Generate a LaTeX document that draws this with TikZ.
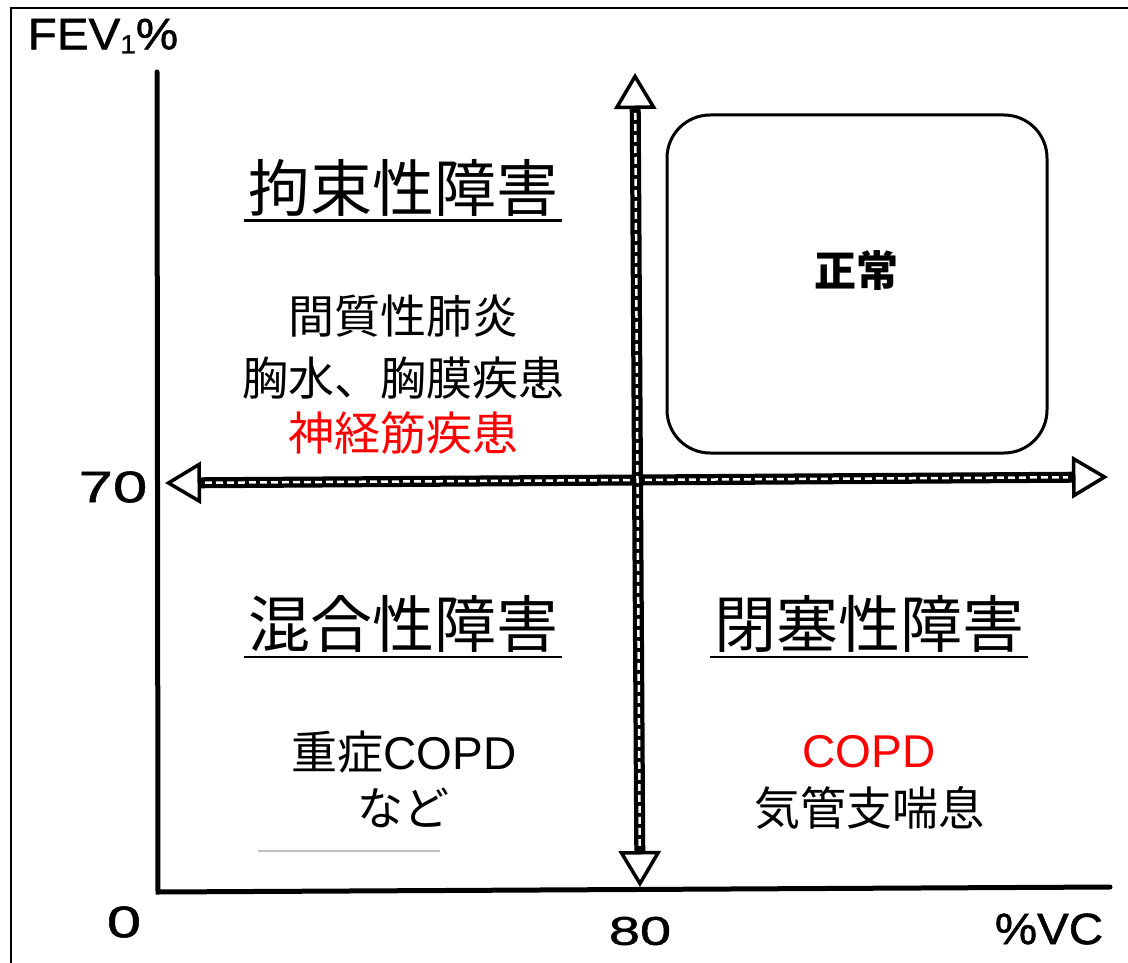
\documentclass[tikz,border=0pt]{standalone}
\usepackage{fontspec}
\setmainfont{Liberation Sans}
\newfontfamily\cjk{Noto Sans CJK JP}
\newfontfamily\digitfont[FakeStretch=1.4, FakeBold=1.2]{Liberation Sans}
\newfontfamily\letterfont[FakeStretch=1.08, FakeBold=1.2]{Liberation Sans}
\usetikzlibrary{arrows.meta}
\begin{document}
\begin{tikzpicture}[x=1pt,y=-1pt,
  frameline/.style={line width=2pt},
  axis/.style={line width=5pt, line cap=round},
  dbl/.style={line width=11pt,
    {Triangle[fill=white,length=36pt,width=42pt,line width=3.5pt]}-{Triangle[fill=white,length=36pt,width=42pt,line width=3.5pt]}},
  dblcore/.style={white, line width=2.5pt, dash pattern=on 7pt off 4pt, shorten <=40pt, shorten >=40pt},
  head/.style={font=\cjk\fontsize{62}{62}\selectfont, inner sep=0pt},
  body/.style={font=\cjk\fontsize{46}{46}\selectfont, inner sep=0pt},
  numlab/.style={font=\digitfont\fontsize{44}{44}\selectfont, inner sep=0pt},
  txtlab/.style={font=\letterfont\fontsize{44}{44}\selectfont, inner sep=0pt},
  ul/.style={line width=2.5pt, shorten <=-4pt, shorten >=-4pt},
  normbox/.style={draw, line width=3pt, rounded corners=43pt, minimum width=380pt, minimum height=338pt, inner sep=0pt},
]
\useasboundingbox (0,0) rectangle (1128,963);
\fill[white] (0,0) rectangle (1128,963);

% outer frame (top and left visible)
\coordinate (ftl) at (11,8);
\coordinate (ftr) at (1130,8);
\coordinate (fbl) at (11,965);
\draw[frameline] (ftr) -- (ftl) -- (fbl);

% axes
\coordinate (ytop) at (157,72);
\coordinate (orig) at (158,892);
\coordinate (xend) at (1110,887);
\draw[axis] (ytop) -- (orig) -- (xend);

% normal box
\node[normbox] (nbox) at (857,284) {};
\node[font=\cjk\bfseries\fontsize{42}{42}\selectfont, inner sep=0pt] (seijo) at (856,271) {正常};

% double arrows
\coordinate (hl) at (165,483);
\coordinate (hr) at (1108,477);
\draw[dbl] (hl) -- (hr);
\draw[dblcore] (hl) -- (hr);
\coordinate (vt) at (635,73);
\coordinate (vb) at (640,887);
\draw[dbl] (vt) -- (vb);
\draw[dblcore] (vt) -- (vb);

% headings
\node[head] (h1) at (403,188) {拘束性障害};
\draw[ul] ([yshift=-4pt]h1.south west) -- ([yshift=-4pt]h1.south east);
\node[head] (h2) at (403,624) {混合性障害};
\draw[ul] ([yshift=-4pt]h2.south west) -- ([yshift=-4pt]h2.south east);
\node[head] (h3) at (869,624) {閉塞性障害};
\draw[ul] ([yshift=-4pt]h3.south west) -- ([yshift=-4pt]h3.south east);

% body texts
\node[body] (r1) at (403,316) {間質性肺炎};
\node[body] (r2) at (403,378) {胸水、胸膜疾患};
\node[body, text=red] (r3) at (403,433) {神経筋疾患};
\node[body] (m1) at (404,752) {重症{\fontspec{Liberation Sans}COPD}};
\node[body] (m2) at (403,808) {など};
\node[body, text=red] (o1) at (869,752) {\fontspec{Liberation Sans}COPD};
\node[body] (o2) at (869,808) {気管支喘息};

% faint artifact line
\coordinate (g1) at (258,851);
\coordinate (g2) at (440,851);
\draw[gray!50, line width=1.5pt] (g1) -- (g2);

% axis labels
\node[txtlab] (fev) at (103,36) {FEV{\fontsize{26}{26}\selectfont\raisebox{-4pt}{1}}\%};
\node[numlab] (l70) at (113,487) {70};
\node[numlab] (l0) at (124,922) {0};
\node[numlab, font=\digitfont\fontsize{40}{40}\selectfont] (l80) at (640,931) {80};
\node[txtlab] (lvc) at (1049,929) {\%VC};
\end{tikzpicture}
\end{document}
